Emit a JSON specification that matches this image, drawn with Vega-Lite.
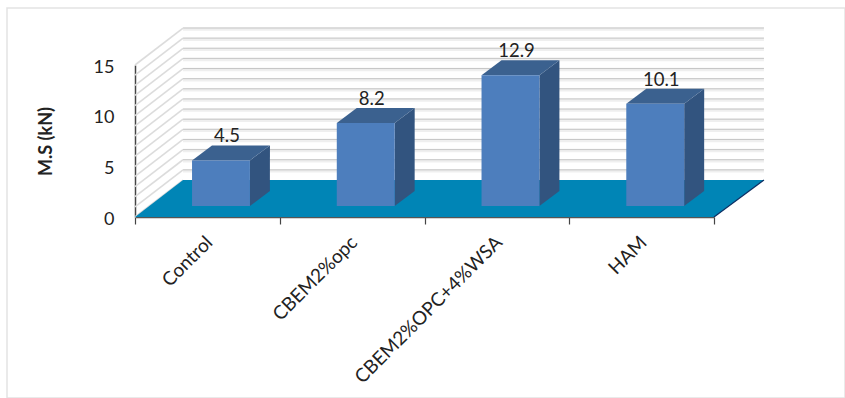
{
  "$schema": "https://vega.github.io/schema/vega-lite/v6.json",
  "width": 838,
  "height": 390,
  "padding": {"left": 7, "top": 8, "right": 0, "bottom": 0},
  "autosize": "none",
  "background": "white",
  "config": {
    "view": {"stroke": "#e3e3e3", "strokeWidth": 1.5, "fill": "white"},
    "font": "Lato"
  },
  "datasets": {
    "bars": [
      {"category": "Control", "slot": 0, "value": 4.5},
      {"category": "CBEM2%opc", "slot": 1, "value": 8.2},
      {"category": "CBEM2%OPC+4%WSA", "slot": 2, "value": 12.9},
      {"category": "HAM", "slot": 3, "value": 10.1}
    ],
    "levels": [
      {"level": 0}, {"level": 1}, {"level": 2}, {"level": 3},
      {"level": 4}, {"level": 5}, {"level": 6}, {"level": 7},
      {"level": 8}, {"level": 9}, {"level": 10}, {"level": 11},
      {"level": 12}, {"level": 13}, {"level": 14}, {"level": 15}
    ]
  },
  "encoding": {
    "x": {
      "type": "quantitative",
      "scale": {"domain": [0, 4], "range": [128, 707], "nice": false, "zero": false},
      "axis": {
        "values": [0, 1, 2, 3, 4],
        "orient": "bottom",
        "offset": -181,
        "grid": false,
        "title": null,
        "domainColor": "#555555",
        "domainWidth": 1.5,
        "tickColor": "#444444",
        "tickWidth": 1.2,
        "tickSize": 7,
        "labelExpr": "datum.value < 4 ? ['Control', 'CBEM2%opc', 'CBEM2%OPC+4%WSA', 'HAM'][datum.value] : ''",
        "labelAngle": -45,
        "labelAlign": "right",
        "labelBaseline": "middle",
        "labelOffset": 74,
        "labelPadding": 15,
        "labelFontSize": 19,
        "labelFont": "Lato",
        "labelColor": "#222222",
        "labelLimit": 400,
        "labelOverlap": false,
        "labelBound": false,
        "labelFlush": false
      }
    },
    "y": {
      "type": "quantitative",
      "scale": {"domain": [0, 15], "range": [209, 57], "nice": false, "zero": false},
      "axis": {
        "values": [0, 5, 10, 15],
        "orient": "left",
        "offset": -128,
        "grid": false,
        "title": "M.S (kN)",
        "titleFont": "Lato",
        "titleFontSize": 18,
        "titleFontWeight": "bold",
        "titleColor": "#222222",
        "titlePadding": 38,
        "domainColor": "#444444",
        "domainWidth": 1.5,
        "ticks": false,
        "labelPadding": 21,
        "labelOffset": 2,
        "labelFontSize": 18,
        "labelFont": "Lato",
        "labelColor": "#222222"
      }
    }
  },
  "layer": [
    {
      "name": "side wall hatching",
      "data": {"name": "levels"},
      "transform": [
        {"calculate": "[0, 0.332]", "as": "run"},
        {"calculate": "[datum.level, datum.level + 3.65]", "as": "rise"},
        {"flatten": ["run", "rise"]}
      ],
      "mark": {"type": "line", "stroke": "#dcdcdc", "strokeWidth": 1.6, "clip": false},
      "encoding": {
        "x": {"field": "run"},
        "y": {"field": "rise"},
        "detail": {"field": "level"}
      }
    },
    {
      "name": "back wall gridline glow",
      "data": {"name": "levels"},
      "transform": [{"filter": "datum.level > 0"}],
      "mark": {"type": "rule", "stroke": "#efefef", "strokeWidth": 3.5, "yOffset": -36},
      "encoding": {
        "x": {"datum": 0.332},
        "x2": {"datum": 4.345},
        "y": {"field": "level"}
      }
    },
    {
      "name": "back wall gridlines",
      "data": {"name": "levels"},
      "transform": [{"filter": "datum.level > 0"}],
      "mark": {"type": "rule", "stroke": "#c6c6c6", "strokeWidth": 1, "yOffset": -37},
      "encoding": {
        "x": {"datum": 0.332},
        "x2": {"datum": 4.345},
        "y": {"field": "level"}
      }
    },
    {
      "name": "floor",
      "data": {"values": [{"plane": "floor"}]},
      "transform": [
        {"calculate": "[0, 0.332, 4, 4.345]", "as": "run"},
        {"calculate": "[0, 0, 0, 3.65]", "as": "near"},
        {"calculate": "[0, 3.65, 3.65, 3.65]", "as": "far"},
        {"flatten": ["run", "near", "far"]}
      ],
      "mark": {"type": "area", "fill": "#0085b6", "opacity": 1, "clip": false},
      "encoding": {
        "x": {"field": "run"},
        "y": {"field": "near"},
        "y2": {"field": "far"}
      }
    },
    {
      "name": "floor front edge",
      "data": {"values": [{"plane": "floor"}]},
      "transform": [
        {"calculate": "[4, 4.345]", "as": "run"},
        {"calculate": "[0, 3.65]", "as": "rise"},
        {"flatten": ["run", "rise"]}
      ],
      "mark": {"type": "line", "stroke": "#0d2f63", "strokeWidth": 1.2, "clip": false},
      "encoding": {
        "x": {"field": "run"},
        "y": {"field": "rise"}
      }
    },
    {
      "name": "bar side faces",
      "data": {"name": "bars"},
      "transform": [
        {"calculate": "[0, 0.138]", "as": "run"},
        {"calculate": "[0, 1.48]", "as": "lift"},
        {"flatten": ["run", "lift"]},
        {"calculate": "datum.slot + 0.794 + datum.run", "as": "px"},
        {"calculate": "datum.lift", "as": "low"},
        {"calculate": "datum.value + datum.lift", "as": "high"}
      ],
      "mark": {"type": "area", "fill": "#32547f", "opacity": 1, "yOffset": -11, "y2Offset": -11, "clip": false},
      "encoding": {
        "x": {"field": "px"},
        "y": {"field": "high"},
        "y2": {"field": "low"},
        "detail": {"field": "category"}
      }
    },
    {
      "name": "bar top faces",
      "data": {"name": "bars"},
      "transform": [
        {"calculate": "[0, 0.138, 0.4, 0.538]", "as": "run"},
        {"calculate": "[0, 0, 0, 1.48]", "as": "near"},
        {"calculate": "[0, 1.48, 1.48, 1.48]", "as": "far"},
        {"flatten": ["run", "near", "far"]},
        {"calculate": "datum.slot + 0.394 + datum.run", "as": "px"},
        {"calculate": "datum.value + datum.near", "as": "low"},
        {"calculate": "datum.value + datum.far", "as": "high"}
      ],
      "mark": {"type": "area", "fill": "#3b618f", "opacity": 1, "yOffset": -11, "y2Offset": -11, "clip": false},
      "encoding": {
        "x": {"field": "px"},
        "y": {"field": "high"},
        "y2": {"field": "low"},
        "detail": {"field": "category"}
      }
    },
    {
      "name": "bar front faces",
      "data": {"name": "bars"},
      "transform": [
        {"calculate": "datum.slot + 0.394", "as": "left"},
        {"calculate": "datum.slot + 0.794", "as": "right"}
      ],
      "mark": {"type": "rect", "fill": "#4d7ebd", "opacity": 1, "yOffset": -11, "y2Offset": -11, "clip": false},
      "encoding": {
        "x": {"field": "left"},
        "x2": {"field": "right"},
        "y": {"field": "value"},
        "y2": {"datum": 0}
      }
    },
    {
      "name": "value labels",
      "data": {"name": "bars"},
      "transform": [{"calculate": "datum.slot + 0.594", "as": "center"}],
      "mark": {"type": "text", "fontSize": 18.5, "font": "Lato", "fill": "#222222", "baseline": "alphabetic", "align": "center", "dx": 6, "dy": -29, "clip": false},
      "encoding": {
        "x": {"field": "center"},
        "y": {"field": "value"},
        "text": {"field": "value", "type": "quantitative", "format": ".1f"}
      }
    }
  ]
}
